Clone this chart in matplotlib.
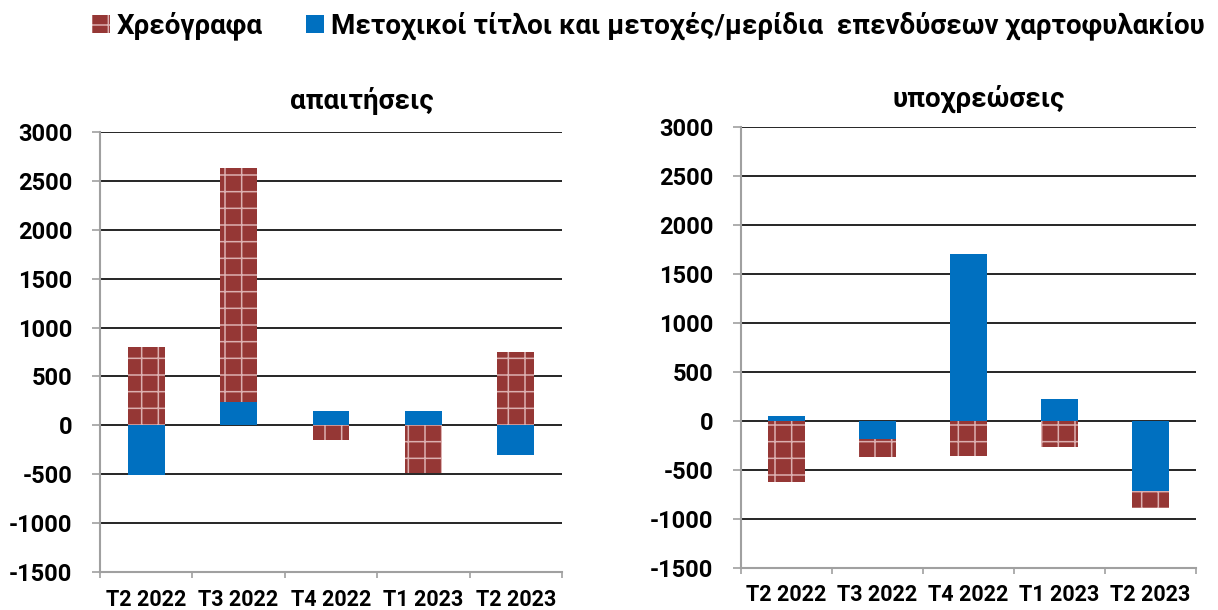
import numpy as np
import matplotlib
matplotlib.use('Agg')
import matplotlib.pyplot as plt
from matplotlib.patches import Patch

plt.rcParams['font.family'] = ['Roboto', 'DejaVu Sans']
plt.rcParams['font.weight'] = 'bold'
plt.rcParams['axes.unicode_minus'] = False
plt.rcParams['hatch.color'] = '#dcb0b0'
plt.rcParams['hatch.linewidth'] = 1.1

quarters = ['T2 2022', 'T3 2022', 'T4 2022', 'T1 2023', 'T2 2023']
series_names = ['Χρεόγραφα', 'Μετοχικοί τίτλοι και μετοχές/μερίδια  επενδύσεων χαρτοφυλακίου']

# απαιτήσεις
assets_debt = [800, 2400, -145, -485, 750]
assets_equity = [-505, 235, 150, 150, -300]
# υποχρεώσεις
liab_debt = [-625, -185, -365, -265, -175]
liab_equity = [45, -185, 1700, 225, -715]

red = '#953735'
blue = '#0070c0'
axis_grey = '#a0a0a0'


def stacked(ax, debt, equity):
    x = np.arange(len(quarters))
    debt = np.array(debt, dtype=float)
    equity = np.array(equity, dtype=float)
    # equity first, debt stacked on the same side of zero
    ax.bar(x, equity, width=0.4, color=blue, edgecolor=blue, linewidth=0, zorder=3)
    base = np.where(np.sign(debt) == np.sign(equity), equity, 0)
    ax.bar(x, debt, bottom=base, width=0.4, color=red, edgecolor='#dcb0b0',
           linewidth=0, hatch='+', zorder=3)
    ax.set_ylim(-1500, 3000)
    ax.set_yticks(np.arange(-1500, 3001, 500))
    ax.set_xlim(-0.5, len(quarters) - 0.5)
    ax.set_xticks(x)
    ax.set_xticklabels(quarters)
    ax.set_xticks(np.arange(-0.5, len(quarters), 1), minor=True)
    ax.tick_params(axis='x', which='major', length=0, pad=12, labelsize=15.5)
    ax.tick_params(axis='x', which='minor', length=4, width=1.2, color=axis_grey,
                   direction='out')
    ax.tick_params(axis='y', length=6, width=1.2, color=axis_grey, labelsize=17, pad=14)
    ax.yaxis.grid(True, color='black', linewidth=1.2, zorder=0)
    ax.set_axisbelow(True)
    for s in ['top', 'right']:
        ax.spines[s].set_visible(False)
    for s in ['left', 'bottom']:
        ax.spines[s].set_color(axis_grey)
        ax.spines[s].set_linewidth(1.5)


W, H = 1218, 610
fig = plt.figure(figsize=(W / 100, H / 100), dpi=100)
ax1 = fig.add_axes([100 / W, 1 - 572 / H, 462 / W, 440 / H])
ax2 = fig.add_axes([741 / W, 1 - 567.7 / H, 455 / W, 441 / H])
stacked(ax1, assets_debt, assets_equity)
stacked(ax2, liab_debt, liab_equity)

fig.text(362 / W, 1 - 101 / H, 'απαιτήσεις', ha='center', va='center',
         fontsize=20, fontweight='bold')
fig.text(979 / W, 1 - 99 / H, 'υποχρεώσεις', ha='center', va='center',
         fontsize=20, fontweight='bold')

handles = [Patch(facecolor=red, edgecolor='#dcb0b0', linewidth=0, hatch='+'),
           Patch(facecolor=blue, edgecolor=blue, linewidth=0)]
fig.legend(handles, series_names, loc='center', bbox_to_anchor=(0.532, 1 - 26 / H),
           ncol=2, frameon=False, handlelength=0.65, handleheight=0.65,
           handletextpad=0.25, columnspacing=1.55, borderpad=0,
           prop={'size': 20, 'weight': 'bold'})

fig.savefig('out.png', dpi=100)
